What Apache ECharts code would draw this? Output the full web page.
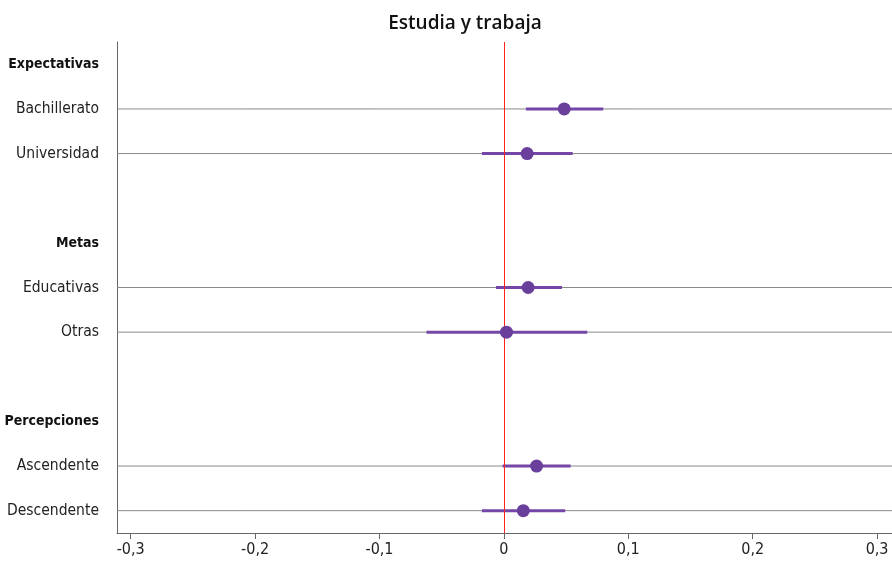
<!DOCTYPE html>
<html><head><meta charset="utf-8">
<script src="https://cdn.jsdelivr.net/npm/echarts@6/dist/echarts.min.js"></script>
<style>html,body{margin:0;padding:0;background:#fff}#c{width:892px;height:565px}</style>
</head><body><div id="c"></div>
<script>
var categories = ['Expectativas','Bachillerato','Universidad',' ','Metas','Educativas','Otras','  ','Percepciones','Ascendente','Descendente'];
var headers = ['Expectativas','Metas','Percepciones'];
var estimates = [null, 0.0485, 0.0187, null, null, 0.0195, 0.0021, null, null, 0.0263, 0.0156];
var lower = [null, 0.0177, -0.0177, null, null, -0.0064, -0.0622, null, null, -0.0010, -0.0177];
var upper = [null, 0.0799, 0.0553, null, null, 0.0467, 0.0670, null, null, 0.0537, 0.0493];
var tickValues = [-0.3, -0.2, -0.1, 0, 0.1, 0.2, 0.3];
var title = 'Estudia y trabaja';

var FONT = "'Liberation Sans Narrow','DejaVu Sans Condensed',sans-serif";
var pointData = [], ciData = [];
categories.forEach(function(c, i){
  if (estimates[i] !== null) {
    pointData.push([estimates[i], i]);
    ciData.push([lower[i], upper[i], i]);
  }
});

var chart = echarts.init(document.getElementById('c'), null, {renderer:'canvas'});
chart.setOption({
  animation:false,
  title:{text:title, left:460, top:9, textAlign:'center',
    textStyle:{fontFamily:"'Open Sans','Noto Sans',sans-serif", fontSize:19, fontWeight:600, color:'#111'}},
  grid:{left:117, right:0, top:42, bottom:32, containLabel:false, outerBoundsMode:'none'},
  xAxis:{type:'value', min:-0.311, max:0.312,
    axisLine:{show:true, onZero:false, lineStyle:{color:'#666', width:1}},
    axisTick:{show:true, length:6, customValues:tickValues, lineStyle:{color:'#666'}},
    axisLabel:{customValues:tickValues, margin:9, fontFamily:FONT, fontSize:16, color:'#222',
      formatter:function(v){ return String(Math.round(v*10)/10).replace('.',','); }},
    splitLine:{show:false}},
  yAxis:{type:'category', data:categories, inverse:true,
    axisLine:{show:true, onZero:false, lineStyle:{color:'#666', width:1}},
    axisTick:{show:false},
    axisLabel:{margin:18, fontFamily:FONT, fontSize:15.5, color:'#222',
      formatter:function(v){ return headers.indexOf(v)>=0 ? '{b|'+v+'}' : v; },
      rich:{b:{fontFamily:FONT, fontSize:14, fontWeight:'bold', color:'#111'}}},
    splitLine:{show:false}},
  series:[
    {type:'custom', z:3,
      renderItem:function(params, api){
        var cs = params.coordSys;
        var a = api.coord([api.value(0), api.value(2)]);
        var b = api.coord([api.value(1), api.value(2)]);
        return {type:'group', children:[
          {type:'line', z2:1, shape:{x1:cs.x, y1:a[1], x2:cs.x+cs.width, y2:a[1]},
            style:{stroke:'#8a8a8a', lineWidth:1}},
          {type:'line', z2:5, shape:{x1:a[0], y1:a[1], x2:b[0], y2:b[1]},
            style:{stroke:'#7446a8', lineWidth:3}}
        ]};
      },
      encode:{x:[0,1], y:2},
      data:ciData
    },
    {type:'line', z:2, data:[[0, 0],[0, categories.length-1]], symbol:'none', silent:true,
      lineStyle:{opacity:0},
      markLine:{silent:true, symbol:'none', label:{show:false},
        lineStyle:{color:'#ff2020', width:1, type:'solid'},
        data:[{xAxis:0}]}
    },
    {type:'scatter', z:5, symbol:'circle', symbolSize:13,
      itemStyle:{color:'#6a3f9c', opacity:1},
      data:pointData
    }
  ]
});
</script></body></html>
